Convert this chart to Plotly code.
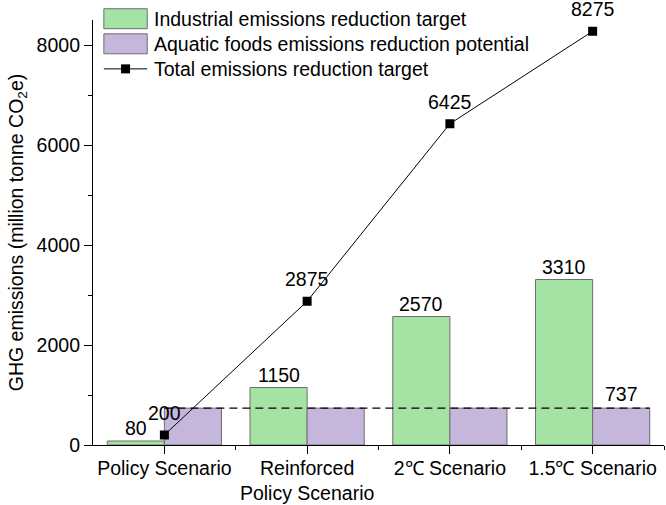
import plotly.graph_objects as go

categories = ["Policy Scenario", "Reinforced<br>Policy Scenario", "2℃ Scenario", "1.5℃ Scenario"]
industrial = [80, 1150, 2570, 3310]
aquatic = [737, 737, 737, 737]
aquatic_labels = ["", "", "", "737"]
total = [200, 2875, 6425, 8275]

names = ["Industrial emissions reduction target",
         "Aquatic foods emissions reduction potential",
         "Total emissions reduction target"]

GREEN = "#A4E3A3"
PURPLE = "#C5B7DC"
EDGE = "#6E6E6E"

x = list(range(len(categories)))
FONT = dict(family="Liberation Sans, Arial, sans-serif", size=19.5, color="black")
bar_w = 0.4

fig = go.Figure()
fig.add_trace(go.Bar(
    x=[i - bar_w / 2 for i in x], y=industrial, width=bar_w, name=names[0],
    marker=dict(color=GREEN, line=dict(color=EDGE, width=1)), showlegend=False,
))
fig.add_trace(go.Bar(
    x=[i + bar_w / 2 for i in x], y=aquatic, width=bar_w, name=names[1],
    marker=dict(color=PURPLE, line=dict(color=EDGE, width=1)), showlegend=False,
))
fig.add_trace(go.Scatter(
    x=x, y=total, name=names[2], mode="lines+markers",
    line=dict(color="black", width=1),
    marker=dict(symbol="square", size=9, color="black"),
    cliponaxis=False, showlegend=False,
))

# dashed reference line at the aquatic potential level
fig.add_shape(type="line", xref="x", yref="y",
              x0=x[0], x1=x[-1] + bar_w, y0=aquatic[0], y1=aquatic[-1],
              line=dict(color="black", width=1.3, dash="8px,5px"), layer="above")

annotations = []
for i, v in zip(x, industrial):
    annotations.append(dict(x=i - bar_w / 2, y=v, text=str(v), showarrow=False,
                            xref="x", yref="y", yanchor="middle", yshift=13, font=FONT))
for i, v, t in zip(x, aquatic, aquatic_labels):
    if t:
        annotations.append(dict(x=i + bar_w / 2, y=v, text=t, showarrow=False,
                                xref="x", yref="y", yanchor="middle", yshift=14, font=FONT))
for i, v in zip(x, total):
    annotations.append(dict(x=i, y=v, text=str(v), showarrow=False,
                            xref="x", yref="y", yanchor="middle", yshift=22, font=FONT))

# custom legend (large swatches as in the reference)
sw_x0, sw_x1 = 0.019, 0.095
txt_x = 0.104
rows = [1.003, 0.944, 0.885]
box_h = 0.047
for name, col, yc in zip(names[:2], [GREEN, PURPLE], rows[:2]):
    fig.add_shape(type="rect", xref="paper", yref="paper",
                  x0=sw_x0, x1=sw_x1, y0=yc - box_h / 2, y1=yc + box_h / 2,
                  fillcolor=col, line=dict(color=EDGE, width=1), layer="above")
fig.add_shape(type="line", xref="paper", yref="paper",
              x0=sw_x0, x1=sw_x1, y0=rows[2], y1=rows[2],
              line=dict(color="black", width=1), layer="above")
mx = (sw_x0 + sw_x1) / 2
fig.add_shape(type="rect", xref="paper", yref="paper",
              x0=mx - 0.0079, x1=mx + 0.0079, y0=rows[2] - 0.0106, y1=rows[2] + 0.0106,
              fillcolor="black", line=dict(color="black", width=0), layer="above")
for name, yc in zip(names, rows):
    annotations.append(dict(x=txt_x, y=yc, xref="paper", yref="paper", text=name,
                            showarrow=False, xanchor="left", yanchor="middle", font=FONT))

fig.update_layout(
    width=666, height=505,
    margin=dict(l=93, r=2, t=20, b=60),
    paper_bgcolor="white", plot_bgcolor="white",
    font=FONT,
    barmode="overlay",
    showlegend=False,
    hovermode=False,
    annotations=annotations,
    xaxis=dict(range=[-0.5, 3.5], tickmode="array", tickvals=x, ticktext=categories,
               showline=True, linecolor="black", linewidth=1.2,
               ticks="outside", ticklen=8, tickcolor="black", ticklabelstandoff=-3,
               minor=dict(tickmode="array", tickvals=[i + 0.5 for i in x],
                          ticks="outside", ticklen=4, tickcolor="black"),
               showgrid=False, zeroline=False, tickfont=FONT, automargin=False),
    yaxis=dict(range=[0, 8500], tickvals=[0, 2000, 4000, 6000, 8000],
               showline=True, linecolor="black", linewidth=1.2,
               ticks="outside", ticklen=8, tickcolor="black",
               minor=dict(tickmode="array", tickvals=[1000, 3000, 5000, 7000],
                          ticks="outside", ticklen=4, tickcolor="black"),
               showgrid=False, zeroline=False, tickfont=FONT, automargin=False,
               title=dict(text="GHG emissions (million tonne CO<sub>2</sub>e)", font=FONT, standoff=7)),
)

fig.write_html("out.html",
               config={"displayModeBar": False},
               post_script="document.body.style.margin='0';document.body.style.overflow='hidden';")
